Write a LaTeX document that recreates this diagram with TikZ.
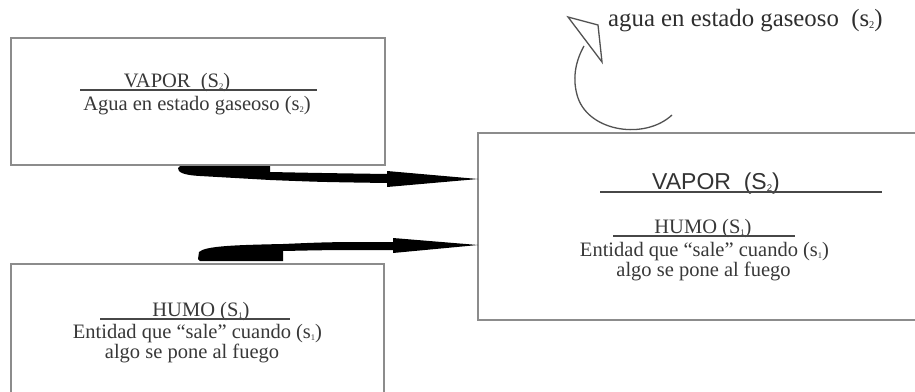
\documentclass[tikz,border=0pt]{standalone}
\usepackage{fontspec}
\setmainfont{Liberation Serif}
\newfontfamily\arialfont{Liberation Sans}
% small lowered index, as in S_2
\newcommand\idx[1]{\raisebox{-0.12em}{\fontsize{0.42em}{0.42em}\selectfont #1}}
\begin{document}
\begin{tikzpicture}[x=1pt,y=-1pt,
  frame/.style={draw=black!45, line width=1.5pt, fill=white},
  txt/.style={anchor=base, inner sep=0pt, text=black!78,
              font=\fontsize{20.5}{24}\selectfont},
  bigtxt/.style={anchor=base, inner sep=0pt, text=black!80,
              font=\arialfont\fontsize{23}{26}\selectfont},
  ulined/.style={draw=black!72, line width=1.6pt},
  blob/.style={fill=black},
  curl/.style={draw=black!68, line width=1.3pt, fill=none}]
\useasboundingbox (0,0) rectangle (915,391);

% boxes
\draw[frame] (11,38) rectangle (385,165);
\draw[frame] (11,264) rectangle (384,400);
\draw[frame] (478,133) rectangle (930,320);

% upper left box
\node[txt] (vaporA) at (177,87) {VAPOR\ \ (S\idx{2})};
\draw[ulined] (80,90) -- (317,90);
\node[txt] (aguaA) at (197,110) {Agua en estado gaseoso (s\idx{2})};

% lower left box
\node[txt] (humoB) at (201,316) {HUMO (S\idx{1})};
\draw[ulined] (100,319) -- (290,319);
\node[txt] (entB) at (197.5,338) {Entidad que ``sale'' cuando (s\idx{1})};
\node[txt] (algoB) at (192,358) {algo se pone al fuego};

% right box
\node[bigtxt] (vaporC) at (716,189) {VAPOR\ \ (S\idx{2})};
\draw[ulined] (600,192) -- (882,192);
\node[txt] (humoC) at (703,233) {HUMO (S\idx{1})};
\draw[ulined] (613,236) -- (795,236);
\node[txt] (entC) at (704.5,256) {Entidad que ``sale'' cuando (s\idx{1})};
\node[txt] (algoC) at (703.5,276) {algo se pone al fuego};

% brush-stroke arrows into the right box
\fill[blob] (180,166) -- (270,166) -- (270,172)
  .. controls (320,173) .. (387,174) -- (387,171) -- (478,179)
  -- (387,187) -- (387,183) .. controls (320,182) .. (270,180)
  -- (200,176) .. controls (182,175) and (178,172) .. (178,168) -- cycle;
\fill[blob] (200,261) -- (283,261) -- (283,251)
  .. controls (330,250) .. (393,250) -- (393,253) -- (478,245)
  -- (393,238) -- (393,242) .. controls (330,242) .. (283,244)
  .. controls (235,245) and (205,246) .. (199,252) -- (198,259) -- cycle;

% curled arrow and its label
\draw[curl] (672,115) .. controls (645,140) and (590,132) .. (578,98)
  .. controls (572,80) and (575,62) .. (584,46);
\draw[curl, line join=miter] (568,17) -- (598,25) -- (602,62) -- cycle;
\node[anchor=base west, inner sep=0pt, text=black!82,
      font=\fontsize{24.8}{28}\selectfont] (label) at (608,26)
  {agua en estado gaseoso\ \ (s\idx{2})};
\end{tikzpicture}
\end{document}
